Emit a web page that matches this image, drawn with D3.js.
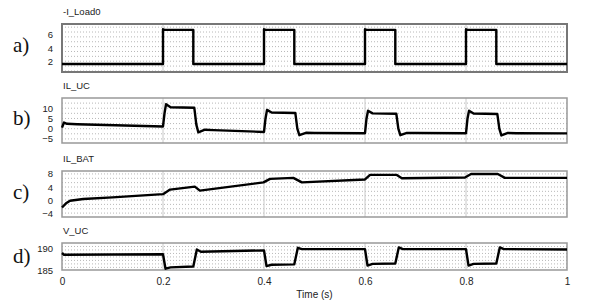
<!DOCTYPE html>
<html><head><meta charset="utf-8">
<script src="https://cdnjs.cloudflare.com/ajax/libs/d3/7.8.5/d3.min.js"></script>
<style>body{margin:0;background:#fff}svg{display:block}</style>
</head><body><svg id="c" width="590" height="301"></svg>
<script>
// ---- data ----
const panelLetters = ["a)", "b)", "c)", "d)"];
const panelTitles = ["-I_Load0", "IL_UC", "IL_BAT", "V_UC"];
const xTicks = [0, 0.2, 0.4, 0.6, 0.8, 1];
const xTickLabels = ["0", "0.2", "0.4", "0.6", "0.8", "1"];
const xTitle = "Time (s)";

const loadTime  = [0, 0.2, 0.2, 0.203, 0.26, 0.26, 0.4, 0.4, 0.403, 0.46, 0.46, 0.6, 0.6, 0.603, 0.66, 0.66, 0.8, 0.8, 0.803, 0.86, 0.86, 1];
const loadValue = [1.7, 1.7, 6.7, 6.6, 6.6, 1.7, 1.7, 6.7, 6.6, 6.6, 1.7, 1.7, 6.7, 6.6, 6.6, 1.7, 1.7, 6.7, 6.6, 6.6, 1.7, 1.7];
const loadTicks = [6, 4, 2];

const ucTime  = [0, 0.004, 0.01, 0.03, 0.2, 0.203, 0.206, 0.215, 0.262, 0.266, 0.27, 0.283, 0.3, 0.4, 0.403, 0.406, 0.415, 0.462, 0.466, 0.47, 0.483, 0.5, 0.6, 0.603, 0.606, 0.615, 0.662, 0.666, 0.67, 0.683, 0.7, 0.8, 0.803, 0.806, 0.815, 0.862, 0.866, 0.87, 0.883, 0.9, 1];
const ucValue = [0.5, 3.0, 2.4, 2.2, 1.1, 7.5, 12.0, 10.5, 10.2, 2.0, -1.8, -0.5, -0.7, -1.6, 5.0, 9.2, 7.9, 7.7, 0.0, -3.2, -2.0, -2.1, -2.2, 5.0, 8.8, 7.5, 7.3, 0.0, -3.2, -2.1, -2.1, -2.2, 5.0, 8.8, 7.4, 7.2, 0.0, -3.3, -2.1, -2.2, -2.3];
const ucTicks = [10, 5, 0, -5];

const batTime  = [0, 0.008, 0.016, 0.042, 0.1, 0.2, 0.214, 0.263, 0.273, 0.399, 0.412, 0.458, 0.475, 0.6, 0.61, 0.663, 0.673, 0.798, 0.81, 0.863, 0.877, 1];
const batValue = [-2.3, -1.0, -0.2, 0.3, 0.8, 1.8, 3.2, 4.1, 2.9, 5.4, 6.5, 6.8, 5.4, 6.3, 7.7, 7.7, 6.7, 6.9, 8.0, 8.0, 6.8, 6.8];
const batTicks = [8, 4, 0, -4];

const vucTime  = [0, 0.004, 0.2, 0.205, 0.215, 0.26, 0.267, 0.275, 0.4, 0.405, 0.415, 0.46, 0.467, 0.475, 0.6, 0.605, 0.615, 0.66, 0.667, 0.675, 0.8, 0.805, 0.815, 0.86, 0.867, 0.875, 1];
const vucValue = [188.9, 188.5, 188.6, 185.3, 185.6, 185.8, 189.7, 189.2, 189.5, 185.9, 186.2, 186.3, 190.1, 189.8, 189.8, 186.0, 186.4, 186.5, 190.2, 189.8, 189.8, 186.0, 186.4, 186.5, 190.2, 189.8, 189.7];
const vucTicks = [190, 185];

// ---- layout ----
const svg = d3.select("#c");
const x = d3.scaleLinear().domain([0, 1]).range([62, 567]);
const panels = [
  {t: loadTime, v: loadValue, ticks: loadTicks, dom: [0.55, 7.45], top: 24, bot: 72, grid: 0.7, border: "#777", bw: 2, letterY: 52, titleY: 15},
  {t: ucTime, v: ucValue, ticks: ucTicks, dom: [-7, 15], top: 98, bot: 143, grid: 2.5, border: "#999", bw: 1.5, letterY: 125, titleY: 89},
  {t: batTime, v: batValue, ticks: batTicks, dom: [-5.2, 8.9], top: 171, bot: 217, grid: 4/3, border: "#999", bw: 1.5, letterY: 199, titleY: 162},
  {t: vucTime, v: vucValue, ticks: vucTicks, dom: [185, 191.2], top: 243, bot: 270, grid: 0.8, border: "#999", bw: 1.5, letterY: 263, titleY: 234}
];

panels.forEach((p, i) => {
  const y = d3.scaleLinear().domain(p.dom).range([p.bot, p.top]);
  const g = svg.append("g");
  g.append("rect").attr("x", x(0)).attr("y", p.top).attr("width", x(1) - x(0)).attr("height", p.bot - p.top).attr("fill", "#fff");
  // horizontal dotted grid
  const gv = d3.range(Math.ceil(p.dom[0] / p.grid) * p.grid, p.dom[1], p.grid);
  g.selectAll(".hg").data(gv).enter().append("line")
    .attr("x1", x(0)).attr("x2", x(1)).attr("y1", d => y(d)).attr("y2", d => y(d))
    .attr("stroke", "#b8b8b8").attr("stroke-width", 1).attr("stroke-dasharray", "1,2");
  // vertical grid
  g.selectAll(".vg").data(xTicks.slice(1, -1)).enter().append("line")
    .attr("x1", d => x(d)).attr("x2", d => x(d)).attr("y1", p.top).attr("y2", p.bot)
    .attr("stroke", "#c8c8c8").attr("stroke-width", 1);
  // frame
  g.append("rect").attr("x", x(0)).attr("y", p.top).attr("width", x(1) - x(0)).attr("height", p.bot - p.top)
    .attr("fill", "none").attr("stroke", p.border).attr("stroke-width", p.bw);
  // y axis labels
  const ax = d3.axisLeft(y).tickValues(p.ticks).tickFormat(d3.format("d")).tickSize(0).tickPadding(9);
  const ag = g.append("g").attr("transform", `translate(${x(0)},0)`).call(ax);
  ag.select(".domain").remove();
  ag.selectAll("text").attr("font-family", "Liberation Sans, Arial, sans-serif").attr("font-size", 9.5).attr("fill", "#222");
  // data line
  const pts = p.t.map((t, k) => [t, p.v[k]]);
  g.append("path").datum(pts)
    .attr("d", d3.line().x(d => x(d[0])).y(d => y(d[1])))
    .attr("fill", "none").attr("stroke", "#000").attr("stroke-width", 2.4).attr("stroke-linejoin", "round");
  // title
  g.append("text").attr("x", 63).attr("y", p.titleY).text(panelTitles[i])
    .attr("font-family", "Liberation Sans, Arial, sans-serif").attr("font-size", 9.5).attr("fill", "#222");
  // letter
  g.append("text").attr("x", 13).attr("y", p.letterY).text(panelLetters[i])
    .attr("font-family", "Liberation Serif, Times New Roman, serif").attr("font-size", 21).attr("fill", "#111");
});

// x axis
const xa = d3.axisBottom(x).tickValues(xTicks).tickFormat((d, k) => xTickLabels[k]).tickSize(0).tickPadding(8);
const xg = svg.append("g").attr("transform", "translate(0,270)").call(xa);
xg.select(".domain").remove();
xg.selectAll("text").attr("font-family", "Liberation Sans, Arial, sans-serif").attr("font-size", 10).attr("fill", "#222");
svg.append("text").attr("x", (x(0) + x(1)) / 2).attr("y", 298).attr("text-anchor", "middle").text(xTitle)
  .attr("font-family", "Liberation Sans, Arial, sans-serif").attr("font-size", 10).attr("fill", "#222");
</script>
</body></html>
